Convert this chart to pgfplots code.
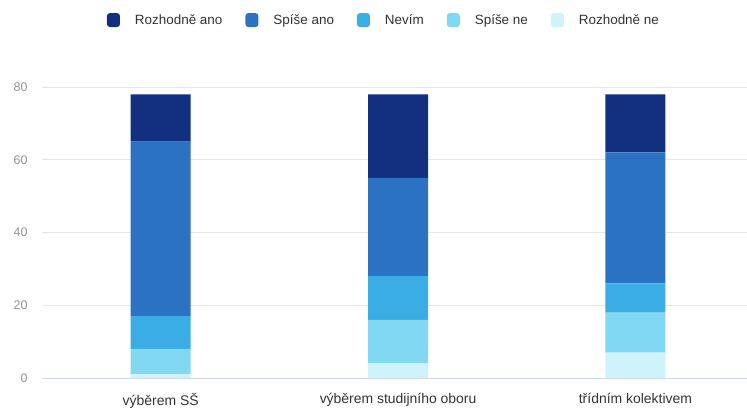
\documentclass[border=0pt]{standalone}
\usepackage{fontspec}
\setmainfont{Liberation Sans}
\usepackage{pgfplots}
\pgfplotsset{compat=1.18}
\definecolor{cRA}{HTML}{12307F}
\definecolor{cSA}{HTML}{2C72C2}
\definecolor{cNV}{HTML}{3AADE5}
\definecolor{cSN}{HTML}{80D8F2}
\definecolor{cRN}{HTML}{CFF3FB}
\definecolor{gridc}{HTML}{E6E6E6}
\definecolor{axisc}{HTML}{CCD6EB}
\begin{document}
\begin{tikzpicture}[x=1bp,y=1bp]
\useasboundingbox (0,0) rectangle (747,410);
\begin{axis}[
    at={(42bp,32bp)}, anchor=south west,
    scale only axis, width=705bp, height=291bp,
    ybar stacked, bar width=60bp,
    xmin=-0.5, xmax=2.47, ymin=0, ymax=80,
    xtick={0,1,2},
    xticklabels={výběrem SŠ, výběrem studijního oboru, třídním kolektivem},
    ytick={0,20,40,60,80},
    ymajorgrids, grid style={draw=gridc, line width=0.8bp},
    axis lines*=left,
    x axis line style={draw=axisc, line width=0.8bp, -},
    y axis line style={draw=none},
    major tick length=0pt,
    /pgf/number format/assume math mode=true,
    yticklabel style={font=\fontsize{12.5}{14}\selectfont, text=gray!85, xshift=-11bp},
    xticklabel style={font=\fontsize{14}{16}\selectfont, text=black!80, yshift=-12bp},
    reverse legend,
    legend columns=5,
    legend style={at={(0.485,1.23)}, anchor=center, draw=none,
        font=\fontsize{13.5}{15}\selectfont, text=black!80,
        /tikz/every even column/.append style={column sep=21bp}},
    legend image code/.code={\fill[#1,draw=none,rounded corners=3bp] (0bp,-7bp) rectangle (13bp,7bp);
        \path[draw=none,fill=none] (0bp,0bp) rectangle (26bp,0.1bp);},
]
\addplot[fill=cRN, draw=none] coordinates {(0,1) (1,4) (2,7)};
\addlegendentry{Rozhodně ne}
\addplot[fill=cSN, draw=none] coordinates {(0,7) (1,12) (2,11)};
\addlegendentry{Spíše ne}
\addplot[fill=cNV, draw=none] coordinates {(0,9) (1,12) (2,8)};
\addlegendentry{Nevím}
\addplot[fill=cSA, draw=none] coordinates {(0,48) (1,27) (2,36)};
\addlegendentry{Spíše ano}
\addplot[fill=cRA, draw=none] coordinates {(0,13) (1,23) (2,16)};
\addlegendentry{Rozhodně ano}
\end{axis}
\end{tikzpicture}
\end{document}
